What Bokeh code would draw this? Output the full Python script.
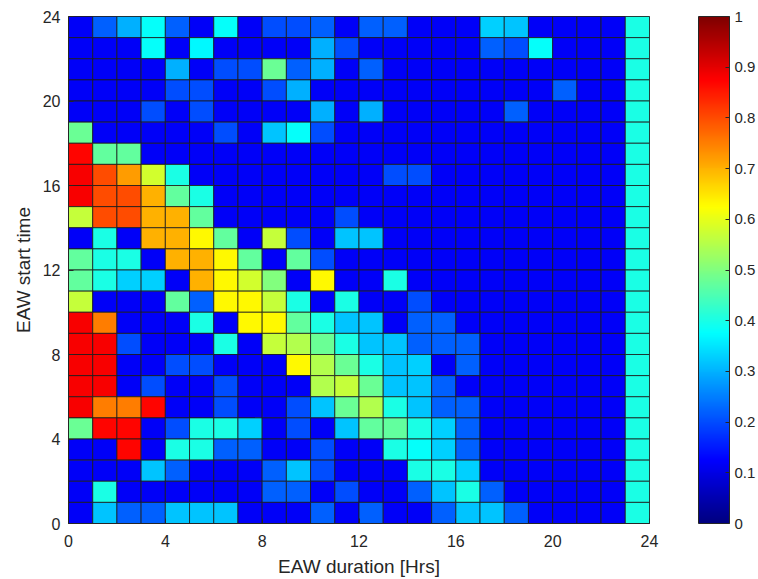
import numpy as np
from bokeh.plotting import figure
from bokeh.models import LinearColorMapper, ColorBar, FixedTicker, ColumnDataSource
from bokeh.embed import file_html
from bokeh.resources import INLINE

# hour bins
duration_hours = list(range(24))
start_hours = list(range(24))
axis_ticks = [0, 4, 8, 12, 16, 20, 24]
colorbar_ticks = [0, 0.1, 0.2, 0.3, 0.4, 0.5, 0.6, 0.7, 0.8, 0.9, 1]

# rows listed from start time 23 (top) down to 0 (bottom); columns = duration 0..23
share_rows_top_down = [
    [0.12,0.22,0.30,0.38,0.22,0.12,0.38,0.12,0.20,0.20,0.22,0.12,0.22,0.22,0.12,0.12,0.12,0.33,0.32,0.12,0.12,0.12,0.12,0.40],
    [0.12,0.12,0.12,0.38,0.12,0.37,0.12,0.12,0.12,0.12,0.30,0.20,0.12,0.12,0.12,0.12,0.12,0.22,0.20,0.38,0.12,0.12,0.12,0.40],
    [0.12,0.12,0.12,0.12,0.30,0.12,0.20,0.20,0.48,0.22,0.30,0.12,0.22,0.12,0.12,0.12,0.12,0.12,0.12,0.12,0.12,0.12,0.12,0.40],
    [0.12,0.12,0.12,0.12,0.20,0.20,0.12,0.12,0.20,0.30,0.12,0.12,0.12,0.12,0.12,0.12,0.12,0.12,0.12,0.12,0.22,0.12,0.12,0.40],
    [0.12,0.12,0.12,0.20,0.12,0.20,0.12,0.12,0.12,0.12,0.30,0.12,0.30,0.12,0.12,0.12,0.12,0.12,0.22,0.12,0.12,0.12,0.12,0.40],
    [0.48,0.12,0.12,0.12,0.12,0.12,0.20,0.12,0.32,0.38,0.20,0.12,0.12,0.12,0.12,0.12,0.12,0.12,0.12,0.12,0.12,0.12,0.12,0.40],
    [0.87,0.47,0.47,0.12,0.12,0.12,0.12,0.12,0.12,0.12,0.12,0.12,0.12,0.12,0.12,0.12,0.12,0.12,0.12,0.12,0.12,0.12,0.12,0.40],
    [0.88,0.80,0.72,0.58,0.40,0.12,0.12,0.12,0.12,0.12,0.12,0.12,0.12,0.20,0.20,0.12,0.12,0.12,0.12,0.12,0.12,0.12,0.12,0.40],
    [0.88,0.80,0.80,0.70,0.47,0.40,0.12,0.12,0.12,0.12,0.12,0.12,0.12,0.12,0.12,0.12,0.12,0.12,0.12,0.12,0.12,0.12,0.12,0.40],
    [0.57,0.80,0.80,0.70,0.70,0.47,0.12,0.12,0.12,0.12,0.12,0.20,0.12,0.12,0.12,0.12,0.12,0.12,0.12,0.12,0.12,0.12,0.12,0.40],
    [0.12,0.40,0.12,0.70,0.70,0.63,0.47,0.12,0.57,0.20,0.12,0.32,0.32,0.12,0.12,0.12,0.12,0.12,0.12,0.12,0.12,0.12,0.12,0.40],
    [0.47,0.40,0.40,0.12,0.70,0.70,0.63,0.47,0.12,0.47,0.20,0.12,0.12,0.12,0.12,0.12,0.12,0.12,0.12,0.12,0.12,0.12,0.12,0.40],
    [0.47,0.40,0.33,0.33,0.12,0.70,0.63,0.58,0.50,0.12,0.63,0.12,0.12,0.40,0.12,0.12,0.12,0.12,0.12,0.12,0.12,0.12,0.12,0.40],
    [0.57,0.12,0.12,0.12,0.47,0.22,0.63,0.63,0.57,0.40,0.12,0.40,0.12,0.12,0.20,0.12,0.12,0.12,0.12,0.12,0.12,0.12,0.12,0.40],
    [0.88,0.75,0.12,0.12,0.12,0.40,0.12,0.63,0.63,0.47,0.40,0.32,0.32,0.12,0.22,0.22,0.12,0.12,0.12,0.12,0.12,0.12,0.12,0.40],
    [0.88,0.88,0.20,0.12,0.12,0.12,0.40,0.12,0.57,0.55,0.48,0.40,0.32,0.32,0.22,0.22,0.22,0.12,0.12,0.12,0.12,0.12,0.12,0.40],
    [0.88,0.88,0.12,0.12,0.20,0.20,0.12,0.12,0.12,0.63,0.55,0.48,0.40,0.32,0.33,0.12,0.22,0.12,0.12,0.12,0.12,0.12,0.12,0.40],
    [0.88,0.88,0.12,0.20,0.12,0.12,0.20,0.12,0.12,0.12,0.55,0.57,0.48,0.32,0.32,0.22,0.12,0.12,0.12,0.12,0.12,0.12,0.12,0.40],
    [0.88,0.75,0.75,0.87,0.12,0.12,0.20,0.12,0.12,0.20,0.32,0.48,0.55,0.40,0.32,0.22,0.22,0.12,0.12,0.12,0.12,0.12,0.12,0.40],
    [0.48,0.87,0.87,0.12,0.20,0.40,0.40,0.33,0.12,0.20,0.12,0.32,0.47,0.47,0.40,0.33,0.22,0.12,0.12,0.12,0.12,0.12,0.12,0.40],
    [0.12,0.12,0.87,0.12,0.40,0.40,0.22,0.22,0.12,0.12,0.20,0.12,0.12,0.40,0.38,0.33,0.22,0.12,0.12,0.12,0.12,0.12,0.12,0.40],
    [0.12,0.12,0.12,0.32,0.22,0.12,0.12,0.12,0.22,0.32,0.20,0.12,0.12,0.12,0.40,0.40,0.33,0.12,0.12,0.12,0.12,0.12,0.12,0.40],
    [0.12,0.40,0.12,0.12,0.12,0.12,0.12,0.12,0.22,0.22,0.12,0.20,0.12,0.12,0.22,0.32,0.40,0.22,0.12,0.12,0.12,0.12,0.12,0.40],
    [0.12,0.32,0.22,0.22,0.32,0.32,0.32,0.12,0.12,0.12,0.22,0.12,0.22,0.12,0.12,0.22,0.32,0.32,0.22,0.12,0.12,0.12,0.12,0.40],
]

# jet colormap (style)
def jet_palette(n=256):
    out = []
    for i in range(n):
        t = i / (n - 1)
        r = np.clip(1.5 - abs(4 * t - 3), 0, 1)
        g = np.clip(1.5 - abs(4 * t - 2), 0, 1)
        b = np.clip(1.5 - abs(4 * t - 1), 0, 1)
        out.append("#%02x%02x%02x" % (int(round(r * 255)), int(round(g * 255)), int(round(b * 255))))
    return out

palette = jet_palette()
mapper = LinearColorMapper(palette=palette, low=0, high=1)

xs, ys, vs = [], [], []
n = len(start_hours)
for ri, row in enumerate(share_rows_top_down):
    start = start_hours[n - 1 - ri]
    for ci, v in enumerate(row):
        xs.append(duration_hours[ci] + 0.5)
        ys.append(start + 0.5)
        vs.append(v)
src = ColumnDataSource(dict(x=xs, y=ys, v=vs))

FONT = "Liberation Sans"
TXT = "#262626"
p = figure(width=758, height=579, x_range=(0, 24), y_range=(0, 24),
           output_backend="svg", toolbar_location=None,
           min_border_left=68, min_border_right=109, min_border_top=16, min_border_bottom=56)
p.rect(x="x", y="y", width=1, height=1, source=src,
       fill_color={"field": "v", "transform": mapper},
       line_color="#1a1a1a", line_width=0.8)

p.xgrid.visible = False
p.ygrid.visible = False
p.outline_line_color = TXT
for ax in (p.xaxis[0], p.yaxis[0]):
    ax.ticker = FixedTicker(ticks=axis_ticks)
    ax.minor_tick_line_color = None
    ax.major_tick_in = 5
    ax.major_tick_out = 0
    ax.major_tick_line_color = TXT
    ax.axis_line_color = TXT
    ax.major_label_text_font = FONT
    ax.major_label_text_font_size = "16px"
    ax.major_label_text_color = TXT
    ax.axis_label_text_font = FONT
    ax.axis_label_text_font_size = "19px"
    ax.axis_label_text_font_style = "normal"
    ax.axis_label_text_color = TXT
p.xaxis.axis_label = "EAW duration [Hrs]"
p.yaxis.axis_label = "EAW start time"
p.xaxis.major_label_standoff = 11
p.yaxis.major_label_standoff = 8
p.xaxis.axis_label_standoff = 6
p.yaxis.axis_label_standoff = 6

cb = ColorBar(color_mapper=mapper, ticker=FixedTicker(ticks=colorbar_ticks),
              width=31, height=507, margin=0, padding=0, location=(630, 0),
              bar_line_color=TXT, major_tick_line_color=TXT,
              major_tick_in=4, major_tick_out=0, label_standoff=5,
              major_label_text_font=FONT, major_label_text_font_size="15px",
              major_label_text_color=TXT, background_fill_alpha=0,
              border_line_color=None)
p.add_layout(cb, "center")

open("out.html", "w").write(file_html(p, INLINE))
